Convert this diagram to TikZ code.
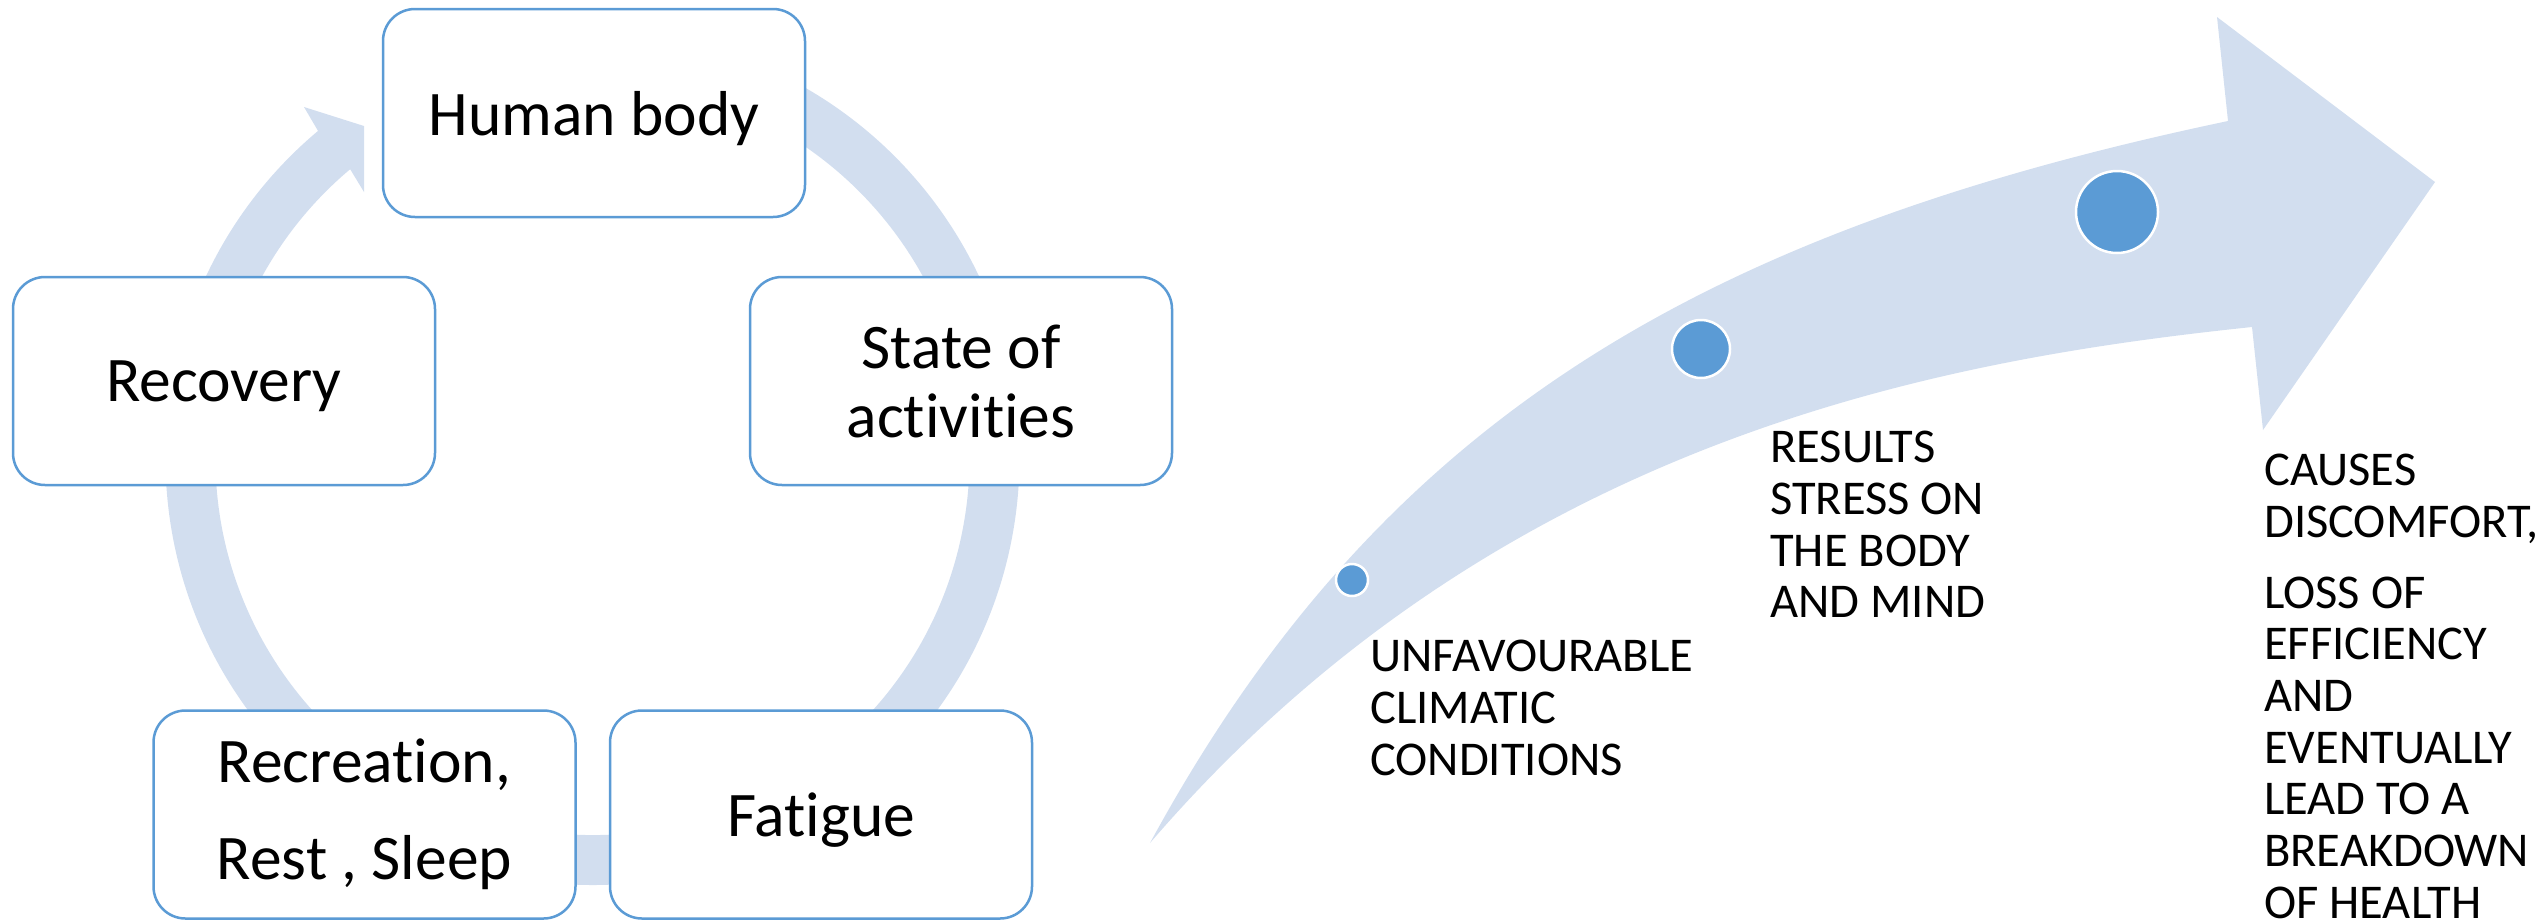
\documentclass[tikz,border=0pt]{standalone}
\usepackage{fontspec}
\setmainfont[Ligatures=NoCommon]{Carlito}
\usetikzlibrary{calc}
\definecolor{band}{HTML}{D2DEEF}
\definecolor{edge}{HTML}{5B9BD5}
\definecolor{dotc}{HTML}{5B9BD5}
\begin{document}
\begin{tikzpicture}[x=1pt,y=-1pt,
  box/.style={draw=edge, line width=2.5pt, fill=white, rounded corners=32pt,
    minimum width=422pt, minimum height=208pt, align=center, inner sep=0pt,
    font=\fontsize{63.5}{69}\selectfont},
  oneline/.style={text depth=0pt},
  dotn/.style={circle, fill=dotc, draw=white, line width=2.5pt, inner sep=0pt},
  lbl/.style={anchor=north west, align=left, inner sep=0pt,
    font=\fontsize{48.5}{51.7}\selectfont}]
\useasboundingbox (0,0) rectangle (2544,922);
% cycle band
\coordinate (C) at (592.5,458);
\fill[band] ($(C)+(230:427)$) arc[start angle=230, end angle=-80, radius=427]
  -- ($(C)+(-80:377)$) arc[start angle=-80, end angle=230, radius=377]
  -- (364,192) -- (364,126) -- (304,107) -- cycle;
% boxes
\node[box, oneline] (hb) at (594,113) {Human body};
\node[box] (sa) at (961,381) {State of\\activities};
\node[box, oneline] (rc) at (224,381) {Recovery};
\node[box] (rr) at (364.5,814.5) {Recreation,\\[28pt]Rest , Sleep};
\node[box, oneline] (fa) at (821,814.5) {Fatigue};
% big arrow
\fill[band] (1150,843) .. controls (1380,420) and (1700,232) .. (2228,121)
  -- (2217,17) -- (2435,182) -- (2263,430) -- (2252,327)
  .. controls (1948,359) and (1501,435) .. (1150,843) -- cycle;
% dots
\node[dotn, minimum size=32pt] (d1) at (1352,580) {};
\node[dotn, minimum size=58pt] (d2) at (1701,349) {};
\node[dotn, minimum size=82pt] (d3) at (2117,212) {};
% texts
\node[lbl] (t1) at (1370,640) {UNFAVOURABLE\\CLIMATIC\\CONDITIONS};
\node[lbl] (t2) at (1770,431) {RESULTS\\STRESS ON\\THE BODY\\AND MIND};
\node[lbl] (t3) at (2264,454) {CAUSES\\DISCOMFORT,\\[19pt]LOSS OF\\EFFICIENCY\\AND\\EVENTUALLY\\LEAD TO A\\BREAKDOWN\\OF HEALTH};
\end{tikzpicture}
\end{document}
